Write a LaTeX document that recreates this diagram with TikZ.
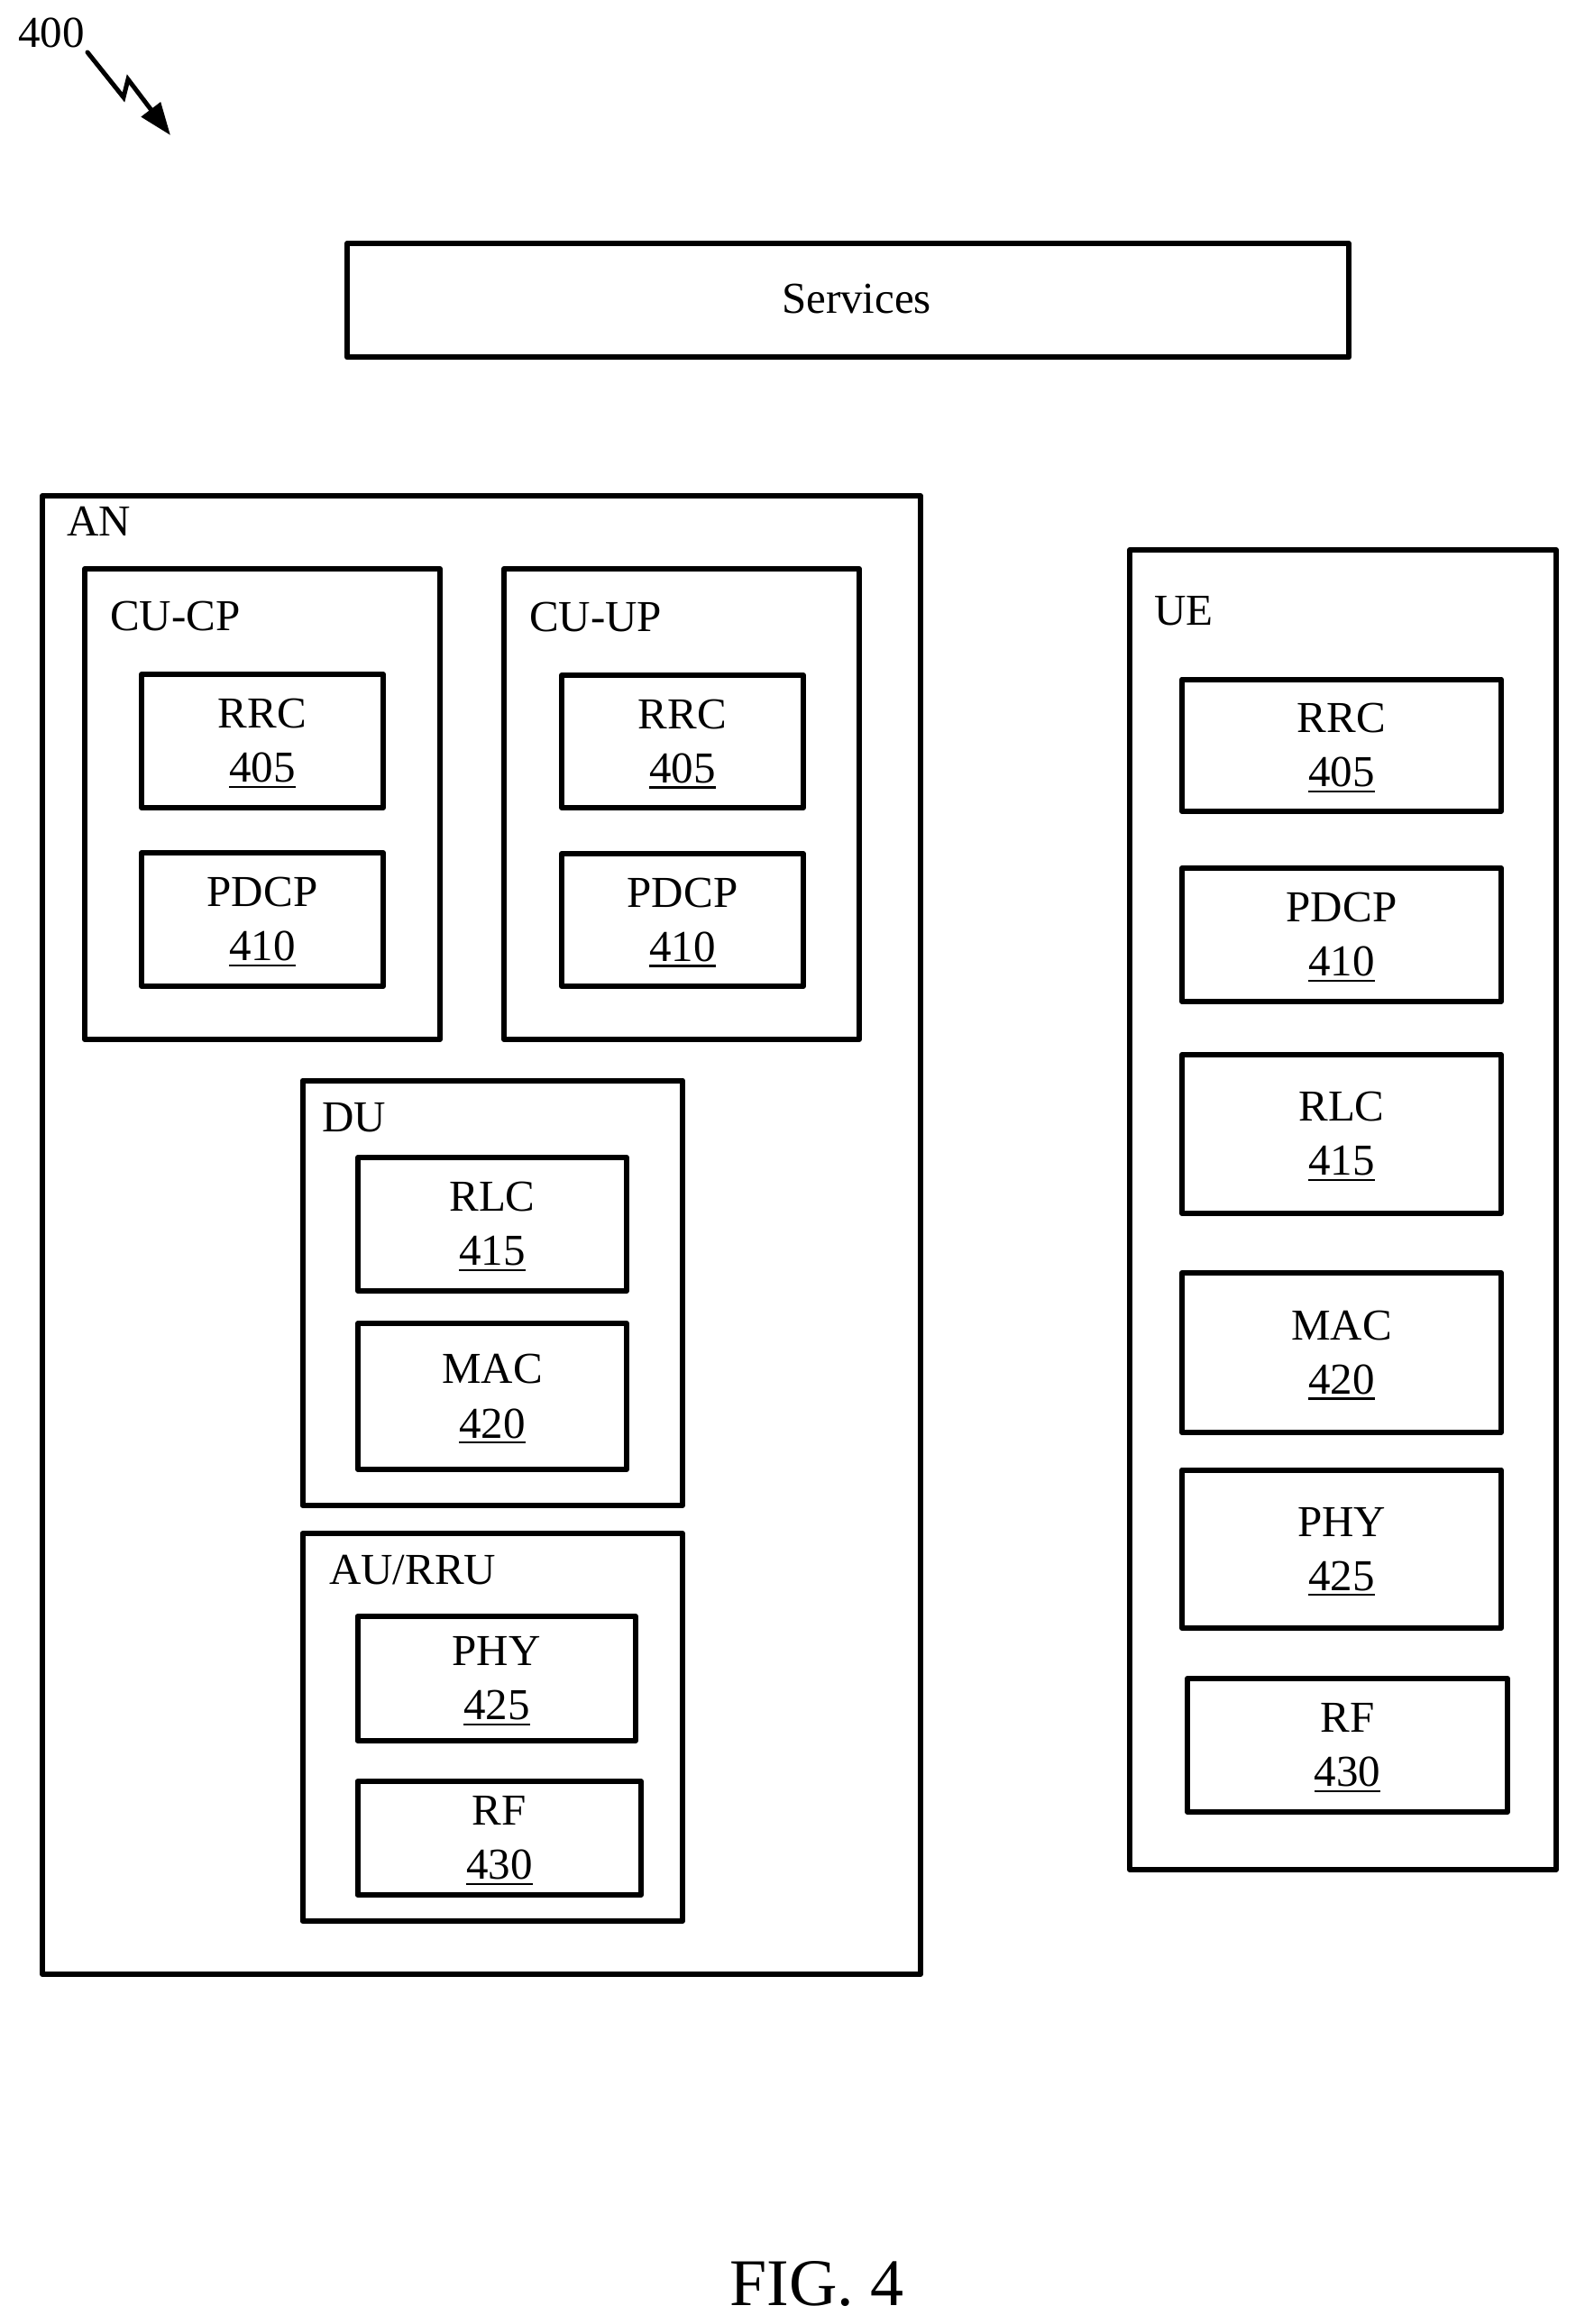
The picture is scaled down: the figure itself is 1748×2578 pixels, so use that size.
\documentclass[tikz,border=0pt]{standalone}
\usepackage{fontspec}
\setmainfont{Liberation Serif}
\usetikzlibrary{arrows.meta}
\tikzset{
  blk/.style={draw=black,line width=3pt,fill=none,inner sep=0pt,outer sep=0pt,align=center,font=\fontsize{24.5}{30}\selectfont,line join=round},
  lbl/.style={inner sep=0pt,outer sep=0pt,anchor=base west,font=\fontsize{24.5}{30}\selectfont},
}
\newcommand{\blkbox}[6]{%
  \pgfmathsetmacro\bw{(#4-#2)*0.5}%
  \pgfmathsetmacro\bh{(#5-#3)*0.5}%
  \node[blk,minimum width=\bw pt,minimum height=\bh pt] (#1) at ({(#2+#4)/2},{(#3+#5)/2}) {#6};%
}
\newsavebox{\ulnumbox}
\newlength{\ulnumwd}
\newcommand{\ulnum}[1]{\sbox{\ulnumbox}{#1}\settowidth{\ulnumwd}{#1}\leavevmode\rlap{\smash{\rule[-3.1pt]{\ulnumwd}{1.2pt}}}\usebox{\ulnumbox}}
\newcommand{\two}[2]{#1\\\ulnum{#2}}
\begin{document}
\begin{tikzpicture}[x=0.5pt,y=-0.5pt]
\useasboundingbox (0,0) rectangle (1748,2578);
\node[lbl] (n400) at (20,53) {400};
\coordinate (z1) at (97,58);
\coordinate (z2) at (137,108);
\coordinate (z3) at (142,88);
\coordinate (z4) at (189,150);
\draw[line width=2.5pt,line cap=round,line join=miter,-{Triangle[length=18pt,width=13pt]}] (z1) -- (z2) -- (z3) -- (z4);
\blkbox{services}{385}{270}{1496}{396.5}{}
\node[lbl,anchor=base] (servicest) at (950,348) {Services};
\blkbox{an}{47}{550}{1021}{2190}{}
\node[lbl] (ant) at (74,594) {AN};
\blkbox{cucp}{94}{631}{488}{1153}{}
\node[lbl] (cucpt) at (122,699) {CU-CP};
\blkbox{rrca}{157}{748}{425}{896}{\two{RRC}{405}}
\blkbox{pdcpa}{157}{946}{425}{1094}{\two{PDCP}{410}}
\blkbox{cuup}{559}{631}{953}{1153}{}
\node[lbl] (cuupt) at (587,700) {CU-UP};
\blkbox{rrcb}{623}{749}{891}{896}{\two{RRC}{405}}
\blkbox{pdcpb}{623}{947}{891}{1094}{\two{PDCP}{410}}
\blkbox{du}{335.5}{1198.5}{757}{1670}{}
\node[lbl] (dut) at (357,1255) {DU};
\blkbox{rlca}{397}{1284}{695}{1432}{\two{RLC}{415}}
\blkbox{maca}{397}{1468}{695}{1630}{\two{MAC}{420}}
\blkbox{au}{335.5}{1701}{757}{2131}{}
\node[lbl] (aut) at (365,1757) {AU/RRU};
\blkbox{phya}{396.5}{1793}{705}{1931}{\two{PHY}{425}}
\blkbox{rfa}{396.5}{1976}{711}{2102}{\two{RF}{430}}
\blkbox{ue}{1253}{610}{1726}{2074}{}
\node[lbl] (uet) at (1280,693) {UE};
\blkbox{rrcc}{1311}{753.5}{1665}{900}{\two{RRC}{405}}
\blkbox{pdcpc}{1311}{963}{1665}{1111}{\two{PDCP}{410}}
\blkbox{rlcc}{1311}{1170}{1665}{1346}{\two{RLC}{415}}
\blkbox{macc}{1311}{1412}{1665}{1589}{\two{MAC}{420}}
\blkbox{phyc}{1311}{1630.5}{1665}{1806}{\two{PHY}{425}}
\blkbox{rfc}{1317}{1862}{1672}{2010}{\two{RF}{430}}
\node[lbl,anchor=base,font=\fontsize{37}{40}\selectfont] (fig) at (906,2557) {FIG. 4};
\end{tikzpicture}
\end{document}
